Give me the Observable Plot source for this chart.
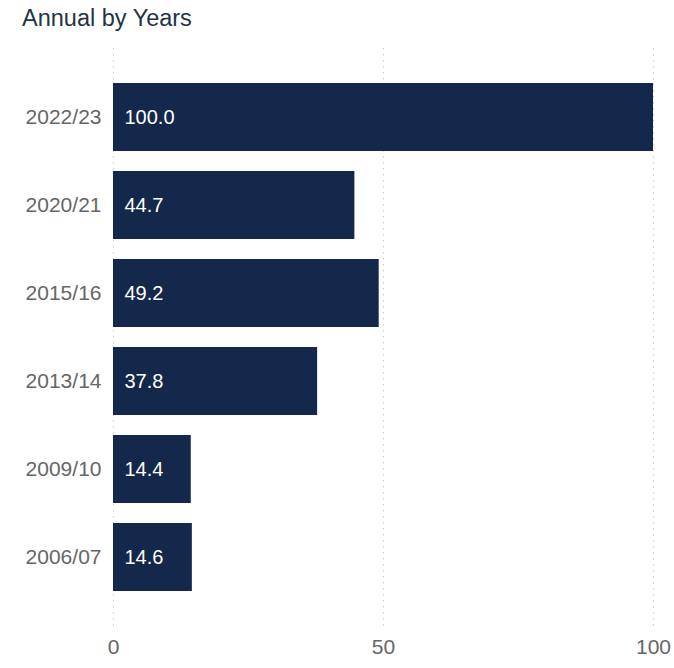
<!DOCTYPE html>
<html>
<head>
<meta charset="utf-8">
<script src="https://cdn.jsdelivr.net/npm/d3@7"></script>
<script src="https://cdn.jsdelivr.net/npm/@observablehq/plot@0.6"></script>
<style>
  body { margin: 0; background: #fff; font-family: "Liberation Sans", Arial, sans-serif; }
  #title { height: 36px; padding-left: 22px; font-size: 23.5px; line-height: 36px; color: #253347; box-sizing: border-box; }
</style>
</head>
<body>
<div id="title">Annual by Years</div>
<div id="chart"></div>
<script>
const years = ["2022/23", "2020/21", "2015/16", "2013/14", "2009/10", "2006/07"];
const values = [100.0, 44.7, 49.2, 37.8, 14.4, 14.6];
const xTicks = [0, 50, 100];

const data = years.map((y, i) => ({year: y, value: values[i]}));

const chart = Plot.plot({
  width: 674,
  height: 632,
  marginLeft: 113,
  marginRight: 21,
  marginTop: 12,
  marginBottom: 41,
  style: {fontFamily: "'Liberation Sans', Arial, sans-serif", fontSize: "20px", background: "#fff"},
  x: {domain: [0, 100], ticks: xTicks, tickSize: 0, label: null},
  y: {domain: years, paddingInner: 0.227, paddingOuter: 0.4, tickSize: 0, label: null},
  marks: [
    Plot.ruleX(xTicks, {stroke: "#c8c8c8", strokeDasharray: "1.5,4.5", strokeWidth: 1, insetBottom: -3}),
    Plot.barX(data, {x: "value", y: "year", fill: "#13284a"}),
    Plot.text(data, {x: 0, y: "year", text: d => d.value.toFixed(1), dx: 11, textAnchor: "start", fill: "#ffffff", fontSize: 20}),
    Plot.axisX({ticks: xTicks, tickSize: 0, tickPadding: 12, color: "#666", fontSize: 21}),
    Plot.axisY({tickSize: 0, tickPadding: 12, color: "#666", fontSize: 21})
  ]
});
document.getElementById("chart").appendChild(chart);
</script>
</body>
</html>
